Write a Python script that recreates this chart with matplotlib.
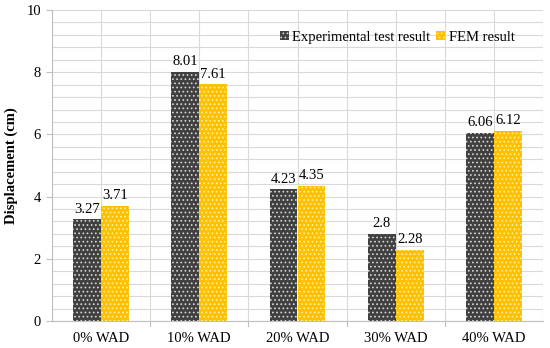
import matplotlib
matplotlib.use("Agg")
import matplotlib.pyplot as plt
import numpy as np
from matplotlib.ticker import MultipleLocator

categories = ["0% WAD", "10% WAD", "20% WAD", "30% WAD", "40% WAD"]
experimental = [3.27, 8.01, 4.23, 2.8, 6.06]
fem = [3.71, 7.61, 4.35, 2.28, 6.12]
exp_labels = ["3.27", "8.01", "4.23", "2.8", "6.06"]
fem_labels = ["3.71", "7.61", "4.35", "2.28", "6.12"]

plt.rcParams['font.family'] = ['Liberation Serif', 'DejaVu Serif']
plt.rcParams['hatch.linewidth'] = 0.7

fig = plt.figure(figsize=(5.5, 3.48), dpi=100)
ax = fig.add_axes([52/550, 1 - 321/348, (543-52)/550, (321-10)/348])

x = np.arange(len(categories))
w = 0.285
b1 = ax.bar(x - w/2, experimental, w, color='#404040', edgecolor='#d8d8d8', linewidth=0,
            hatch='....', label='Experimental test result', zorder=3)
b2 = ax.bar(x + w/2, fem, w, color='#FFC000', edgecolor='#FFF0A0', linewidth=0,
            hatch='....', label='FEM result', zorder=3)

fs = 10.5
for xi, v, t in zip(x, experimental, exp_labels):
    ax.text(xi - w/2, v + 0.12, t, ha='center', va='bottom', fontsize=fs)
for xi, v, t in zip(x, fem, fem_labels):
    ax.text(xi + w/2, v + 0.12, t, ha='center', va='bottom', fontsize=fs)

ax.set_xlim(-0.5, len(categories) - 0.5)
ax.set_ylim(0, 10)
ax.yaxis.set_major_locator(MultipleLocator(2))
ax.yaxis.set_minor_locator(MultipleLocator(0.4))
ax.set_xticks(x)
ax.set_xticklabels(categories, fontsize=fs)
ax.set_xticks(np.arange(-0.5, len(categories), 0.5), minor=True)
ax.tick_params(axis='x', which='major', length=0, pad=8)
ax.tick_params(axis='x', which='minor', length=0)
ax.tick_params(axis='y', which='major', length=4, color='#bfbfbf', labelsize=fs, pad=4)
ax.tick_params(axis='y', which='minor', length=0)
ax.grid(True, which='both', axis='both', color='#d9d9d9', linewidth=0.8, zorder=0)

for s in ['top', 'right']:
    ax.spines[s].set_visible(False)
ax.spines['bottom'].set_color('#bfbfbf')
ax.spines['left'].set_color('#bfbfbf')
ax.spines['bottom'].set_zorder(4)
for xb in np.arange(0.5, len(categories) - 0.5, 1.0):
    ax.plot([xb, xb], [0, -0.15], color='#bfbfbf', linewidth=0.8, clip_on=False)

ax.set_ylabel('Displacement (cm)', fontsize=fs, fontweight='bold', labelpad=6)

leg = ax.legend(loc='upper right', bbox_to_anchor=(0.969, 0.975), frameon=False, ncol=2,
                fontsize=fs, handlelength=0.6, handleheight=0.6, handletextpad=0.25,
                columnspacing=0.4)

fig.savefig('out.png', dpi=100)
